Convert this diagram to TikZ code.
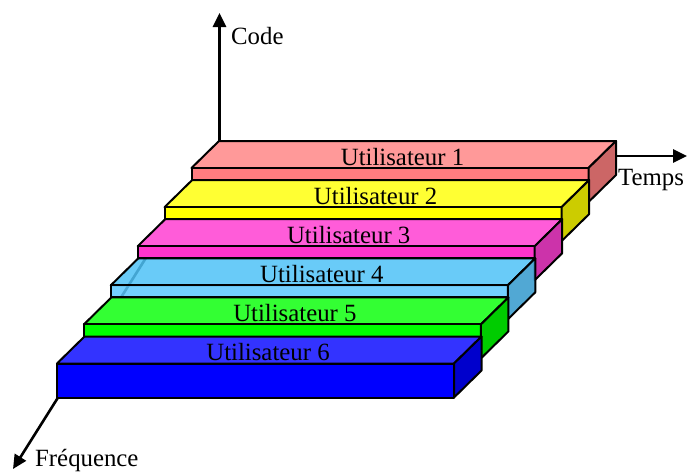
\documentclass[tikz,border=0pt]{standalone}
\usepackage{fontspec}
\setmainfont{Liberation Serif}
\usetikzlibrary{arrows.meta}

% slab colours: top face, front face, side face
\definecolor{rtop}{HTML}{FF9999}\definecolor{rfront}{HTML}{FF7C80}\definecolor{rside}{HTML}{CC6666}
\definecolor{ytop}{HTML}{FFFF33}\definecolor{yfront}{HTML}{FFFF00}\definecolor{yside}{HTML}{CCCC00}
\definecolor{mtop}{HTML}{FF5CD9}\definecolor{mfront}{HTML}{FF33CC}\definecolor{mside}{HTML}{CC33AA}
\definecolor{ctop}{HTML}{4FC2F7}\definecolor{cfront}{HTML}{5CC8FF}\definecolor{cside}{HTML}{3399CC}
\definecolor{gtop}{HTML}{33FF33}\definecolor{gfront}{HTML}{00FF00}\definecolor{gside}{HTML}{00CC00}
\definecolor{btop}{HTML}{3333FF}\definecolor{bfront}{HTML}{0000FF}\definecolor{bside}{HTML}{0000CC}

% one slab: #1 index, #2 top, #3 front, #4 side, #5 visible front height, #6 fill opacity, #7 number
\newcommand\slabbox[7]{%
  \pgfmathsetmacro\xl{191.5-26.9*#1}%
  \pgfmathsetmacro\yf{168+39.1*#1}%
  \pgfmathsetmacro\xr{\xl+397}%
  \begin{scope}[fill opacity=#6]
    \filldraw[face, fill=#2] (\xl,\yf) -- ++(27.5,-27) -- ++(397,0) -- ++(-27.5,27) -- cycle;
    \filldraw[face, fill=#3] (\xl,\yf) rectangle ++(397,#5);
    \filldraw[face, fill=#4] (\xr,\yf) -- ++(27.5,-27) -- ++(0,34) -- ++(-27.5,27) -- cycle;
  \end{scope}
  \node[slablabel] (u#7) at (\xl+211,\yf-3) {Utilisateur #7};%
}

\begin{document}
\begin{tikzpicture}[x=1pt, y=-1pt,
  face/.style={draw=black, line width=2pt, line join=round},
  slablabel/.style={anchor=base, inner sep=0pt, font=\fontsize{24.8}{29}\selectfont},
  axlabel/.style={anchor=base west, inner sep=0pt, font=\fontsize{24.8}{29}\selectfont},
  axis/.style={line width=2.6pt, -{Triangle[length=14pt,width=13pt]}}]
\useasboundingbox (0,0) rectangle (687,472);

% axes origin and ends
\coordinate (O) at (219.5,141);
\coordinate (codetip) at (219.5,13);
\coordinate (freqtip) at (13,469);
\coordinate (tstart) at (615,156);
\coordinate (ttip) at (687,156);

\draw[axis] (O) -- (codetip);
\draw[axis] (O) -- (freqtip);

% slabs, back to front
\slabbox{0}{rtop}{rfront}{rside}{12.1}{1}{1}
\slabbox{1}{ytop}{yfront}{yside}{12.1}{1}{2}
\slabbox{2}{mtop}{mfront}{mside}{12.1}{1}{3}
\slabbox{3}{ctop}{cfront}{cside}{12.1}{0.85}{4}
\slabbox{4}{gtop}{gfront}{gside}{12.1}{1}{5}
\slabbox{5}{btop}{bfront}{bside}{34.5}{1}{6}

\draw[axis] (tstart) -- (ttip);

\node[axlabel] (code) at (231,44) {Code};
\node[axlabel] (temps) at (618,185) {Temps};
\node[axlabel] (freq) at (35,466.5) {Fréquence};
\end{tikzpicture}
\end{document}
